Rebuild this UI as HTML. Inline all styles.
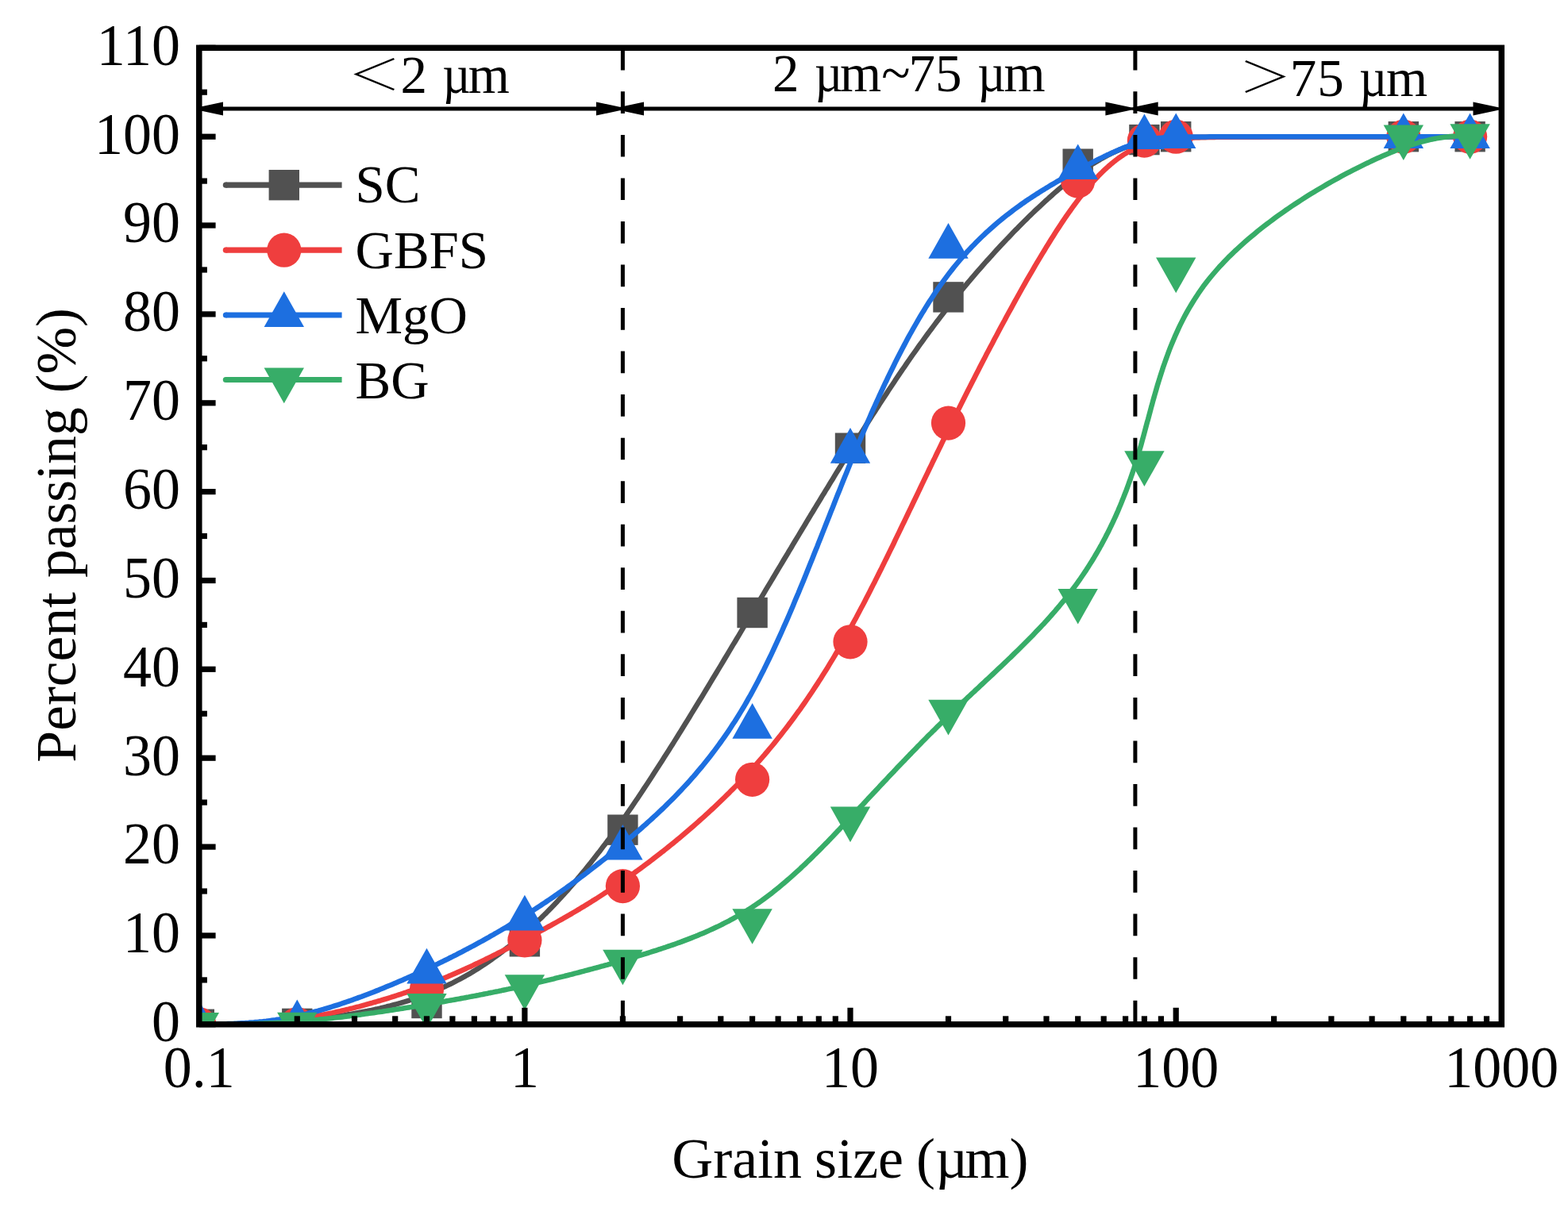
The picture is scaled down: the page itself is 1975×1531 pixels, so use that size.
<!DOCTYPE html>
<html><head><meta charset="utf-8"><title>Grain size distribution</title>
<style>html,body{margin:0;padding:0;background:#fff;} svg{display:block;}
text{font-family:"Liberation Serif","Noto Serif CJK SC",serif;fill:#000;}</style></head>
<body>
<svg width="1975" height="1531" viewBox="0 0 1975 1531">
<rect width="1975" height="1531" fill="#fff"/>
<defs><clipPath id="pc"><rect x="250.8" y="60.3" width="1640.5" height="1230.5"/></clipPath></defs>
<g clip-path="url(#pc)">
<path d="M250.8,1290.8 L252.9,1290.8 L255.0,1290.8 L257.2,1290.8 L259.3,1290.7 L261.4,1290.7 L263.5,1290.7 L265.6,1290.7 L267.8,1290.7 L269.9,1290.6 L272.0,1290.6 L274.2,1290.6 L276.3,1290.6 L278.4,1290.6 L280.6,1290.5 L282.7,1290.5 L284.8,1290.5 L287.0,1290.4 L289.1,1290.4 L291.3,1290.4 L293.5,1290.3 L295.6,1290.3 L297.8,1290.2 L300.0,1290.2 L302.1,1290.1 L304.3,1290.1 L306.5,1290.0 L308.7,1290.0 L310.9,1289.9 L313.1,1289.8 L315.3,1289.8 L317.5,1289.7 L319.7,1289.6 L321.9,1289.5 L324.2,1289.4 L326.4,1289.4 L328.7,1289.3 L330.9,1289.2 L333.2,1289.1 L335.4,1288.9 L337.7,1288.8 L340.0,1288.7 L342.3,1288.6 L344.6,1288.5 L346.9,1288.3 L349.2,1288.2 L351.6,1288.0 L353.9,1287.9 L356.2,1287.7 L358.6,1287.6 L361.0,1287.4 L363.3,1287.2 L365.7,1287.0 L368.1,1286.8 L370.5,1286.6 L372.9,1286.4 L375.4,1286.2 L377.8,1286.0 L380.3,1285.8 L382.7,1285.6 L385.2,1285.3 L387.7,1285.1 L390.2,1284.8 L392.7,1284.5 L395.2,1284.3 L397.7,1284.0 L400.3,1283.7 L402.8,1283.4 L405.4,1283.1 L407.9,1282.8 L410.5,1282.5 L413.1,1282.1 L415.7,1281.8 L418.2,1281.5 L420.8,1281.1 L423.4,1280.7 L426.0,1280.3 L428.6,1280.0 L431.2,1279.6 L433.9,1279.2 L436.5,1278.7 L439.1,1278.3 L441.7,1277.9 L444.4,1277.4 L447.0,1277.0 L449.6,1276.5 L452.2,1276.0 L454.9,1275.5 L457.5,1275.0 L460.1,1274.5 L462.8,1274.0 L465.4,1273.4 L468.0,1272.9 L470.7,1272.3 L473.3,1271.7 L475.9,1271.2 L478.5,1270.6 L481.1,1269.9 L483.7,1269.3 L486.3,1268.7 L488.9,1268.0 L491.5,1267.4 L494.1,1266.7 L496.7,1266.0 L499.3,1265.3 L501.9,1264.6 L504.4,1263.9 L507.0,1263.1 L509.5,1262.4 L512.1,1261.6 L514.6,1260.8 L517.1,1260.0 L519.7,1259.2 L522.2,1258.4 L524.7,1257.5 L527.1,1256.7 L529.6,1255.8 L532.1,1254.9 L534.5,1254.0 L537.0,1253.1 L539.4,1252.1 L541.8,1251.2 L544.2,1250.2 L546.6,1249.2 L549.0,1248.2 L551.4,1247.2 L553.7,1246.2 L556.1,1245.2 L558.4,1244.1 L560.7,1243.0 L563.1,1241.9 L565.4,1240.8 L567.7,1239.7 L570.0,1238.6 L572.3,1237.4 L574.6,1236.2 L576.8,1235.0 L579.1,1233.8 L581.4,1232.6 L583.6,1231.4 L585.9,1230.1 L588.1,1228.8 L590.3,1227.6 L592.6,1226.3 L594.8,1224.9 L597.0,1223.6 L599.2,1222.2 L601.4,1220.9 L603.6,1219.5 L605.8,1218.1 L608.0,1216.6 L610.1,1215.2 L612.3,1213.8 L614.5,1212.3 L616.6,1210.8 L618.8,1209.3 L621.0,1207.7 L623.1,1206.2 L625.3,1204.6 L627.4,1203.1 L629.6,1201.5 L631.7,1199.9 L633.8,1198.2 L636.0,1196.6 L638.1,1194.9 L640.2,1193.2 L642.4,1191.5 L644.5,1189.8 L646.6,1188.0 L648.7,1186.3 L650.9,1184.5 L653.0,1182.7 L655.1,1180.9 L657.2,1179.1 L659.3,1177.2 L661.5,1175.4 L663.6,1173.5 L665.7,1171.6 L667.8,1169.6 L669.9,1167.7 L672.1,1165.7 L674.2,1163.7 L676.3,1161.7 L678.4,1159.7 L680.6,1157.7 L682.7,1155.6 L684.8,1153.5 L687.0,1151.4 L689.1,1149.2 L691.2,1147.1 L693.4,1144.9 L695.5,1142.7 L697.7,1140.4 L699.8,1138.2 L702.0,1135.9 L704.1,1133.6 L706.3,1131.3 L708.5,1128.9 L710.6,1126.5 L712.8,1124.1 L715.0,1121.7 L717.2,1119.2 L719.4,1116.7 L721.6,1114.2 L723.8,1111.6 L726.0,1109.0 L728.2,1106.4 L730.4,1103.8 L732.6,1101.1 L734.9,1098.4 L737.1,1095.7 L739.4,1092.9 L741.6,1090.1 L743.9,1087.3 L746.1,1084.4 L748.4,1081.5 L750.7,1078.6 L753.0,1075.6 L755.3,1072.7 L757.6,1069.6 L759.9,1066.6 L762.3,1063.5 L764.6,1060.3 L767.0,1057.2 L769.3,1054.0 L771.7,1050.7 L774.1,1047.5 L776.4,1044.2 L778.8,1040.8 L781.3,1037.4 L783.7,1034.0 L786.1,1030.6 L788.6,1027.1 L791.0,1023.5 L793.5,1019.9 L796.0,1016.3 L798.4,1012.7 L800.9,1009.0 L803.5,1005.3 L806.0,1001.5 L808.5,997.7 L811.0,993.9 L813.6,990.0 L816.1,986.2 L818.7,982.2 L821.3,978.3 L823.8,974.3 L826.4,970.3 L829.0,966.3 L831.6,962.3 L834.2,958.2 L836.8,954.1 L839.4,950.0 L842.0,945.9 L844.6,941.7 L847.3,937.6 L849.9,933.4 L852.5,929.2 L855.1,925.0 L857.8,920.7 L860.4,916.5 L863.0,912.3 L865.7,908.0 L868.3,903.7 L870.9,899.4 L873.6,895.1 L876.2,890.8 L878.8,886.5 L881.4,882.2 L884.1,877.9 L886.7,873.6 L889.3,869.3 L891.9,865.0 L894.5,860.6 L897.1,856.3 L899.7,852.0 L902.3,847.7 L904.9,843.4 L907.5,839.1 L910.1,834.8 L912.6,830.5 L915.2,826.2 L917.8,821.9 L920.3,817.7 L922.8,813.4 L925.4,809.2 L927.9,805.0 L930.4,800.8 L932.9,796.6 L935.4,792.4 L937.9,788.2 L940.4,784.1 L942.8,780.0 L945.3,775.9 L947.7,771.8 L950.1,767.7 L952.5,763.7 L954.9,759.6 L957.3,755.6 L959.7,751.6 L962.1,747.6 L964.4,743.7 L966.8,739.7 L969.1,735.8 L971.5,731.9 L973.8,728.0 L976.1,724.1 L978.4,720.3 L980.7,716.4 L983.0,712.6 L985.3,708.8 L987.5,705.0 L989.8,701.2 L992.1,697.5 L994.3,693.7 L996.6,690.0 L998.8,686.2 L1001.0,682.5 L1003.2,678.8 L1005.5,675.1 L1007.7,671.4 L1009.9,667.8 L1012.1,664.1 L1014.3,660.5 L1016.4,656.9 L1018.6,653.3 L1020.8,649.6 L1023.0,646.1 L1025.1,642.5 L1027.3,638.9 L1029.5,635.3 L1031.6,631.8 L1033.8,628.2 L1035.9,624.7 L1038.1,621.2 L1040.2,617.7 L1042.4,614.2 L1044.5,610.7 L1046.6,607.2 L1048.8,603.7 L1050.9,600.2 L1053.0,596.7 L1055.1,593.3 L1057.3,589.8 L1059.4,586.4 L1061.5,582.9 L1063.6,579.5 L1065.8,576.1 L1067.9,572.7 L1070.0,569.2 L1072.1,565.8 L1074.2,562.4 L1076.3,559.0 L1078.5,555.6 L1080.6,552.2 L1082.7,548.8 L1084.8,545.5 L1087.0,542.1 L1089.1,538.7 L1091.2,535.3 L1093.3,532.0 L1095.5,528.6 L1097.6,525.3 L1099.7,521.9 L1101.9,518.6 L1104.0,515.3 L1106.2,511.9 L1108.3,508.6 L1110.5,505.3 L1112.6,502.0 L1114.8,498.7 L1117.0,495.4 L1119.1,492.1 L1121.3,488.8 L1123.5,485.5 L1125.7,482.2 L1127.8,478.9 L1130.0,475.7 L1132.2,472.4 L1134.4,469.2 L1136.6,465.9 L1138.9,462.7 L1141.1,459.4 L1143.3,456.2 L1145.5,453.0 L1147.8,449.7 L1150.0,446.5 L1152.3,443.3 L1154.6,440.1 L1156.8,436.9 L1159.1,433.7 L1161.4,430.6 L1163.7,427.4 L1166.0,424.2 L1168.3,421.0 L1170.6,417.9 L1173.0,414.7 L1175.3,411.6 L1177.7,408.4 L1180.0,405.3 L1182.4,402.2 L1184.8,399.1 L1187.2,396.0 L1189.6,392.8 L1192.0,389.7 L1194.4,386.7 L1196.8,383.6 L1199.3,380.5 L1201.7,377.4 L1204.2,374.3 L1206.7,371.3 L1209.2,368.2 L1211.7,365.2 L1214.2,362.2 L1216.7,359.1 L1219.2,356.1 L1221.8,353.1 L1224.3,350.1 L1226.9,347.1 L1229.4,344.2 L1232.0,341.2 L1234.5,338.3 L1237.1,335.3 L1239.7,332.4 L1242.2,329.5 L1244.8,326.7 L1247.4,323.8 L1250.0,321.0 L1252.5,318.1 L1255.1,315.3 L1257.7,312.5 L1260.2,309.8 L1262.8,307.0 L1265.4,304.3 L1267.9,301.6 L1270.5,298.9 L1273.1,296.2 L1275.6,293.6 L1278.1,290.9 L1280.7,288.4 L1283.2,285.8 L1285.7,283.2 L1288.2,280.7 L1290.7,278.2 L1293.2,275.8 L1295.7,273.3 L1298.2,270.9 L1300.7,268.5 L1303.1,266.2 L1305.5,263.9 L1308.0,261.6 L1310.4,259.3 L1312.8,257.1 L1315.2,254.9 L1317.5,252.7 L1319.9,250.6 L1322.2,248.5 L1324.5,246.5 L1326.8,244.4 L1329.1,242.4 L1331.3,240.5 L1333.6,238.6 L1335.8,236.7 L1338.0,234.9 L1340.2,233.1 L1342.3,231.3 L1344.5,229.6 L1346.6,227.9 L1348.7,226.2 L1350.7,224.6 L1352.8,223.1 L1354.8,221.5 L1356.8,220.1 L1358.7,218.6 L1360.7,217.2 L1362.6,215.8 L1364.5,214.5 L1366.4,213.2 L1368.3,211.9 L1370.1,210.6 L1371.9,209.4 L1373.7,208.3 L1375.5,207.1 L1377.3,206.0 L1379.0,204.9 L1380.7,203.9 L1382.4,202.9 L1384.1,201.9 L1385.7,200.9 L1387.4,200.0 L1389.0,199.1 L1390.6,198.2 L1392.2,197.3 L1393.7,196.5 L1395.3,195.7 L1396.8,194.9 L1398.3,194.2 L1399.8,193.4 L1401.3,192.7 L1402.7,192.0 L1404.2,191.4 L1405.6,190.7 L1407.0,190.1 L1408.4,189.5 L1409.7,188.9 L1411.1,188.4 L1412.4,187.8 L1413.7,187.3 L1415.0,186.8 L1416.3,186.3 L1417.6,185.8 L1418.9,185.4 L1420.1,184.9 L1421.3,184.5 L1422.5,184.1 L1423.7,183.7 L1424.9,183.3 L1426.1,182.9 L1427.2,182.6 L1428.4,182.2 L1429.5,181.9 L1430.6,181.5 L1431.7,181.2 L1432.8,180.9 L1433.8,180.6 L1434.9,180.3 L1435.9,180.0 L1437.0,179.7 L1438.0,179.5 L1439.0,179.2 L1440.0,179.0 L1441.0,178.7 L1442.0,178.5 L1443.0,178.2 L1444.0,178.0 L1445.0,177.8 L1446.1,177.6 L1447.1,177.4 L1448.1,177.1 L1449.1,177.0 L1450.1,176.8 L1451.2,176.6 L1452.2,176.4 L1453.3,176.2 L1454.4,176.1 L1455.5,175.9 L1456.6,175.7 L1457.7,175.6 L1458.9,175.5 L1460.1,175.3 L1461.3,175.2 L1462.5,175.0 L1463.8,174.9 L1465.0,174.8 L1466.4,174.7 L1467.7,174.6 L1469.1,174.5 L1470.5,174.4 L1471.9,174.3 L1473.4,174.2 L1474.9,174.1 L1476.5,174.0 L1478.1,173.9 L1479.7,173.8 L1481.4,173.8 L1483.1,173.7 L1484.9,173.6 L1486.7,173.5 L1488.6,173.5 L1490.5,173.4 L1492.5,173.4 L1494.5,173.3 L1496.6,173.3 L1498.8,173.2 L1501.0,173.2 L1503.3,173.1 L1505.6,173.1 L1508.0,173.0 L1510.4,173.0 L1513.0,172.9 L1515.5,172.9 L1518.2,172.9 L1520.9,172.8 L1523.7,172.8 L1526.6,172.8 L1529.6,172.7 L1532.6,172.7 L1535.6,172.7 L1538.8,172.6 L1542.0,172.6 L1545.2,172.6 L1548.5,172.6 L1551.9,172.5 L1555.3,172.5 L1558.8,172.5 L1562.3,172.5 L1565.9,172.5 L1569.4,172.4 L1573.1,172.4 L1576.8,172.4 L1580.5,172.4 L1584.2,172.4 L1588.0,172.4 L1591.8,172.3 L1595.6,172.3 L1599.5,172.3 L1603.3,172.3 L1607.2,172.3 L1611.1,172.3 L1615.1,172.3 L1619.0,172.3 L1623.0,172.3 L1626.9,172.2 L1630.9,172.2 L1634.8,172.2 L1638.8,172.2 L1642.8,172.2 L1646.7,172.2 L1650.7,172.2 L1654.6,172.2 L1658.6,172.2 L1662.5,172.2 L1666.4,172.2 L1670.3,172.2 L1674.2,172.2 L1678.0,172.2 L1681.8,172.2 L1685.6,172.2 L1689.4,172.2 L1693.1,172.2 L1696.9,172.2 L1700.5,172.2 L1704.2,172.2 L1707.8,172.2 L1711.3,172.2 L1714.8,172.2 L1718.3,172.2 L1721.7,172.2 L1725.1,172.2 L1728.4,172.2 L1731.6,172.2 L1734.8,172.2 L1737.9,172.2 L1741.0,172.2 L1744.0,172.2 L1747.0,172.2 L1749.9,172.2 L1752.8,172.2 L1755.6,172.2 L1758.3,172.2 L1761.0,172.2 L1763.6,172.2 L1766.2,172.2 L1768.8,172.2 L1771.3,172.2 L1773.7,172.2 L1776.1,172.2 L1778.5,172.2 L1780.8,172.2 L1783.1,172.2 L1785.4,172.2 L1787.6,172.2 L1789.7,172.2 L1791.8,172.2 L1793.9,172.2 L1796.0,172.2 L1798.0,172.2 L1800.0,172.2 L1801.9,172.2 L1803.8,172.2 L1805.7,172.2 L1807.6,172.2 L1809.4,172.2 L1811.2,172.2 L1813.0,172.2 L1814.7,172.2 L1816.4,172.2 L1818.1,172.2 L1819.8,172.2 L1821.4,172.2 L1823.1,172.2 L1824.7,172.2 L1826.3,172.2 L1827.9,172.2 L1829.4,172.2 L1831.0,172.2 L1832.5,172.2 L1834.0,172.2 L1835.5,172.2 L1837.0,172.2 L1838.5,172.2 L1840.0,172.2 L1841.4,172.2 L1842.9,172.2 L1844.3,172.2 L1845.8,172.2 L1847.2,172.2 L1848.7,172.2 L1850.1,172.2 L1851.6,172.2" fill="none" stroke="#515151" stroke-width="6.5" stroke-linejoin="round" stroke-linecap="round"/>
<rect x="231.6" y="1271.6" width="38.4" height="38.4" fill="#515151"/>
<rect x="355.1" y="1270.7" width="38.4" height="38.4" fill="#515151"/>
<rect x="518.3" y="1244.8" width="38.4" height="38.4" fill="#515151"/>
<rect x="641.7" y="1167.1" width="38.4" height="38.4" fill="#515151"/>
<rect x="765.2" y="1026.5" width="38.4" height="38.4" fill="#515151"/>
<rect x="928.4" y="752.8" width="38.4" height="38.4" fill="#515151"/>
<rect x="1051.8" y="545.5" width="38.4" height="38.4" fill="#515151"/>
<rect x="1175.3" y="355.2" width="38.4" height="38.4" fill="#515151"/>
<rect x="1338.5" y="187.5" width="38.4" height="38.4" fill="#515151"/>
<rect x="1422.2" y="156.9" width="38.4" height="38.4" fill="#515151"/>
<rect x="1462.0" y="153.0" width="38.4" height="38.4" fill="#515151"/>
<rect x="1748.6" y="153.0" width="38.4" height="38.4" fill="#515151"/>
<rect x="1832.4" y="153.0" width="38.4" height="38.4" fill="#515151"/>
<path d="M250.8,1290.8 L252.9,1290.8 L255.0,1290.8 L257.2,1290.8 L259.3,1290.8 L261.4,1290.8 L263.5,1290.8 L265.6,1290.8 L267.8,1290.8 L269.9,1290.7 L272.0,1290.7 L274.2,1290.7 L276.3,1290.7 L278.4,1290.7 L280.6,1290.6 L282.7,1290.6 L284.8,1290.6 L287.0,1290.6 L289.1,1290.5 L291.3,1290.5 L293.5,1290.4 L295.6,1290.4 L297.8,1290.3 L300.0,1290.3 L302.1,1290.2 L304.3,1290.1 L306.5,1290.1 L308.7,1290.0 L310.9,1289.9 L313.1,1289.8 L315.3,1289.7 L317.5,1289.6 L319.7,1289.5 L321.9,1289.3 L324.2,1289.2 L326.4,1289.1 L328.7,1288.9 L330.9,1288.8 L333.2,1288.6 L335.4,1288.5 L337.7,1288.3 L340.0,1288.1 L342.3,1287.9 L344.6,1287.7 L346.9,1287.5 L349.2,1287.3 L351.6,1287.0 L353.9,1286.8 L356.2,1286.5 L358.6,1286.3 L361.0,1286.0 L363.3,1285.7 L365.7,1285.4 L368.1,1285.1 L370.5,1284.8 L372.9,1284.5 L375.4,1284.1 L377.8,1283.8 L380.3,1283.4 L382.7,1283.0 L385.2,1282.6 L387.7,1282.2 L390.2,1281.8 L392.7,1281.3 L395.2,1280.9 L397.7,1280.4 L400.3,1280.0 L402.8,1279.5 L405.4,1279.0 L407.9,1278.5 L410.5,1278.0 L413.1,1277.4 L415.7,1276.9 L418.2,1276.4 L420.8,1275.8 L423.4,1275.2 L426.0,1274.6 L428.6,1274.1 L431.2,1273.4 L433.9,1272.8 L436.5,1272.2 L439.1,1271.6 L441.7,1270.9 L444.4,1270.3 L447.0,1269.6 L449.6,1268.9 L452.2,1268.3 L454.9,1267.6 L457.5,1266.9 L460.1,1266.2 L462.8,1265.4 L465.4,1264.7 L468.0,1264.0 L470.7,1263.2 L473.3,1262.5 L475.9,1261.7 L478.5,1261.0 L481.1,1260.2 L483.7,1259.4 L486.3,1258.6 L488.9,1257.8 L491.5,1257.0 L494.1,1256.2 L496.7,1255.4 L499.3,1254.5 L501.9,1253.7 L504.4,1252.9 L507.0,1252.0 L509.5,1251.1 L512.1,1250.3 L514.6,1249.4 L517.1,1248.5 L519.7,1247.7 L522.2,1246.8 L524.7,1245.9 L527.1,1245.0 L529.6,1244.1 L532.1,1243.2 L534.5,1242.3 L537.0,1241.3 L539.4,1240.4 L541.8,1239.5 L544.2,1238.6 L546.6,1237.6 L549.0,1236.7 L551.4,1235.7 L553.7,1234.8 L556.1,1233.8 L558.4,1232.9 L560.7,1231.9 L563.1,1230.9 L565.4,1229.9 L567.7,1229.0 L570.0,1228.0 L572.3,1227.0 L574.6,1226.0 L576.8,1225.0 L579.1,1224.0 L581.4,1223.0 L583.6,1222.0 L585.9,1221.0 L588.1,1219.9 L590.3,1218.9 L592.6,1217.9 L594.8,1216.9 L597.0,1215.8 L599.2,1214.8 L601.4,1213.8 L603.6,1212.7 L605.8,1211.7 L608.0,1210.6 L610.1,1209.6 L612.3,1208.5 L614.5,1207.4 L616.6,1206.4 L618.8,1205.3 L621.0,1204.2 L623.1,1203.2 L625.3,1202.1 L627.4,1201.0 L629.6,1199.9 L631.7,1198.9 L633.8,1197.8 L636.0,1196.7 L638.1,1195.6 L640.2,1194.5 L642.4,1193.4 L644.5,1192.3 L646.6,1191.2 L648.7,1190.1 L650.9,1189.0 L653.0,1187.9 L655.1,1186.8 L657.2,1185.7 L659.3,1184.5 L661.5,1183.4 L663.6,1182.3 L665.7,1181.2 L667.8,1180.1 L669.9,1178.9 L672.1,1177.8 L674.2,1176.7 L676.3,1175.6 L678.4,1174.4 L680.6,1173.3 L682.7,1172.1 L684.8,1171.0 L687.0,1169.8 L689.1,1168.6 L691.2,1167.5 L693.4,1166.3 L695.5,1165.1 L697.7,1163.9 L699.8,1162.7 L702.0,1161.5 L704.1,1160.3 L706.3,1159.1 L708.5,1157.9 L710.6,1156.6 L712.8,1155.4 L715.0,1154.1 L717.2,1152.9 L719.4,1151.6 L721.6,1150.3 L723.8,1149.0 L726.0,1147.7 L728.2,1146.4 L730.4,1145.1 L732.6,1143.7 L734.9,1142.4 L737.1,1141.0 L739.4,1139.6 L741.6,1138.3 L743.9,1136.9 L746.1,1135.4 L748.4,1134.0 L750.7,1132.6 L753.0,1131.1 L755.3,1129.6 L757.6,1128.1 L759.9,1126.6 L762.3,1125.1 L764.6,1123.6 L767.0,1122.0 L769.3,1120.5 L771.7,1118.9 L774.1,1117.3 L776.4,1115.7 L778.8,1114.0 L781.3,1112.4 L783.7,1110.7 L786.1,1109.0 L788.6,1107.3 L791.0,1105.6 L793.5,1103.8 L796.0,1102.1 L798.4,1100.3 L800.9,1098.5 L803.5,1096.7 L806.0,1094.8 L808.5,1093.0 L811.0,1091.1 L813.6,1089.2 L816.1,1087.3 L818.7,1085.3 L821.3,1083.4 L823.8,1081.4 L826.4,1079.4 L829.0,1077.4 L831.6,1075.4 L834.2,1073.3 L836.8,1071.3 L839.4,1069.2 L842.0,1067.1 L844.6,1065.0 L847.3,1062.9 L849.9,1060.7 L852.5,1058.6 L855.1,1056.4 L857.8,1054.2 L860.4,1052.0 L863.0,1049.8 L865.7,1047.5 L868.3,1045.3 L870.9,1043.0 L873.6,1040.7 L876.2,1038.4 L878.8,1036.1 L881.4,1033.8 L884.1,1031.4 L886.7,1029.1 L889.3,1026.7 L891.9,1024.3 L894.5,1021.9 L897.1,1019.5 L899.7,1017.1 L902.3,1014.6 L904.9,1012.2 L907.5,1009.7 L910.1,1007.2 L912.6,1004.7 L915.2,1002.2 L917.8,999.7 L920.3,997.1 L922.8,994.6 L925.4,992.0 L927.9,989.5 L930.4,986.9 L932.9,984.3 L935.4,981.7 L937.9,979.0 L940.4,976.4 L942.8,973.8 L945.3,971.1 L947.7,968.4 L950.1,965.8 L952.5,963.1 L954.9,960.4 L957.3,957.6 L959.7,954.9 L962.1,952.2 L964.4,949.4 L966.8,946.6 L969.1,943.8 L971.5,941.0 L973.8,938.2 L976.1,935.4 L978.4,932.5 L980.7,929.6 L983.0,926.7 L985.3,923.8 L987.5,920.9 L989.8,918.0 L992.1,915.0 L994.3,912.0 L996.6,909.0 L998.8,906.0 L1001.0,903.0 L1003.2,899.9 L1005.5,896.8 L1007.7,893.8 L1009.9,890.6 L1012.1,887.5 L1014.3,884.3 L1016.4,881.2 L1018.6,878.0 L1020.8,874.7 L1023.0,871.5 L1025.1,868.2 L1027.3,864.9 L1029.5,861.6 L1031.6,858.3 L1033.8,854.9 L1035.9,851.5 L1038.1,848.1 L1040.2,844.7 L1042.4,841.2 L1044.5,837.7 L1046.6,834.2 L1048.8,830.6 L1050.9,827.1 L1053.0,823.5 L1055.1,819.8 L1057.3,816.2 L1059.4,812.5 L1061.5,808.8 L1063.6,805.1 L1065.8,801.3 L1067.9,797.5 L1070.0,793.7 L1072.1,789.8 L1074.2,785.9 L1076.3,782.0 L1078.5,778.1 L1080.6,774.1 L1082.7,770.1 L1084.8,766.1 L1087.0,762.0 L1089.1,757.9 L1091.2,753.8 L1093.3,749.7 L1095.5,745.5 L1097.6,741.3 L1099.7,737.1 L1101.9,732.9 L1104.0,728.6 L1106.2,724.3 L1108.3,720.0 L1110.5,715.7 L1112.6,711.3 L1114.8,706.9 L1117.0,702.5 L1119.1,698.1 L1121.3,693.6 L1123.5,689.2 L1125.7,684.7 L1127.8,680.2 L1130.0,675.6 L1132.2,671.1 L1134.4,666.5 L1136.6,661.9 L1138.9,657.3 L1141.1,652.7 L1143.3,648.0 L1145.5,643.4 L1147.8,638.7 L1150.0,634.0 L1152.3,629.3 L1154.6,624.5 L1156.8,619.8 L1159.1,615.0 L1161.4,610.2 L1163.7,605.4 L1166.0,600.6 L1168.3,595.8 L1170.6,591.0 L1173.0,586.1 L1175.3,581.2 L1177.7,576.4 L1180.0,571.5 L1182.4,566.6 L1184.8,561.7 L1187.2,556.7 L1189.6,551.8 L1192.0,546.9 L1194.4,541.9 L1196.8,537.0 L1199.3,532.0 L1201.7,527.0 L1204.2,522.0 L1206.7,517.0 L1209.2,512.0 L1211.7,507.0 L1214.2,502.0 L1216.7,497.0 L1219.2,492.0 L1221.8,487.0 L1224.3,482.0 L1226.9,477.0 L1229.4,472.0 L1232.0,467.0 L1234.5,462.0 L1237.1,457.0 L1239.7,452.1 L1242.2,447.1 L1244.8,442.2 L1247.4,437.3 L1250.0,432.4 L1252.5,427.5 L1255.1,422.7 L1257.7,417.8 L1260.2,413.0 L1262.8,408.2 L1265.4,403.5 L1267.9,398.7 L1270.5,394.0 L1273.1,389.4 L1275.6,384.7 L1278.1,380.1 L1280.7,375.5 L1283.2,371.0 L1285.7,366.5 L1288.2,362.0 L1290.7,357.6 L1293.2,353.2 L1295.7,348.9 L1298.2,344.6 L1300.7,340.4 L1303.1,336.2 L1305.5,332.0 L1308.0,327.9 L1310.4,323.9 L1312.8,319.9 L1315.2,316.0 L1317.5,312.1 L1319.9,308.3 L1322.2,304.5 L1324.5,300.8 L1326.8,297.2 L1329.1,293.6 L1331.3,290.1 L1333.6,286.6 L1335.8,283.2 L1338.0,279.9 L1340.2,276.7 L1342.3,273.5 L1344.5,270.4 L1346.6,267.4 L1348.7,264.5 L1350.7,261.6 L1352.8,258.8 L1354.8,256.1 L1356.8,253.4 L1358.7,250.8 L1360.7,248.3 L1362.6,245.8 L1364.5,243.4 L1366.4,241.1 L1368.3,238.8 L1370.1,236.6 L1371.9,234.5 L1373.7,232.4 L1375.5,230.4 L1377.3,228.4 L1379.0,226.5 L1380.7,224.7 L1382.4,222.9 L1384.1,221.1 L1385.7,219.4 L1387.4,217.8 L1389.0,216.2 L1390.6,214.7 L1392.2,213.2 L1393.7,211.8 L1395.3,210.4 L1396.8,209.0 L1398.3,207.7 L1399.8,206.4 L1401.3,205.2 L1402.7,204.0 L1404.2,202.9 L1405.6,201.8 L1407.0,200.7 L1408.4,199.7 L1409.7,198.7 L1411.1,197.8 L1412.4,196.9 L1413.7,196.0 L1415.0,195.1 L1416.3,194.3 L1417.6,193.5 L1418.9,192.7 L1420.1,192.0 L1421.3,191.3 L1422.5,190.6 L1423.7,189.9 L1424.9,189.3 L1426.1,188.7 L1427.2,188.1 L1428.4,187.5 L1429.5,186.9 L1430.6,186.4 L1431.7,185.9 L1432.8,185.4 L1433.8,184.9 L1434.9,184.4 L1435.9,183.9 L1437.0,183.5 L1438.0,183.1 L1439.0,182.6 L1440.0,182.2 L1441.0,181.8 L1442.0,181.4 L1443.0,181.1 L1444.0,180.7 L1445.0,180.3 L1446.1,180.0 L1447.1,179.7 L1448.1,179.4 L1449.1,179.1 L1450.1,178.8 L1451.2,178.5 L1452.2,178.2 L1453.3,177.9 L1454.4,177.7 L1455.5,177.4 L1456.6,177.2 L1457.7,177.0 L1458.9,176.7 L1460.1,176.5 L1461.3,176.3 L1462.5,176.1 L1463.8,175.9 L1465.0,175.8 L1466.4,175.6 L1467.7,175.4 L1469.1,175.3 L1470.5,175.1 L1471.9,175.0 L1473.4,174.8 L1474.9,174.7 L1476.5,174.6 L1478.1,174.5 L1479.7,174.3 L1481.4,174.2 L1483.1,174.1 L1484.9,174.0 L1486.7,173.9 L1488.6,173.9 L1490.5,173.8 L1492.5,173.7 L1494.5,173.6 L1496.6,173.5 L1498.8,173.5 L1501.0,173.4 L1503.3,173.4 L1505.6,173.3 L1508.0,173.2 L1510.4,173.2 L1513.0,173.1 L1515.5,173.1 L1518.2,173.0 L1520.9,173.0 L1523.7,173.0 L1526.6,172.9 L1529.6,172.9 L1532.6,172.8 L1535.6,172.8 L1538.8,172.8 L1542.0,172.7 L1545.2,172.7 L1548.5,172.7 L1551.9,172.6 L1555.3,172.6 L1558.8,172.6 L1562.3,172.6 L1565.9,172.5 L1569.4,172.5 L1573.1,172.5 L1576.8,172.5 L1580.5,172.4 L1584.2,172.4 L1588.0,172.4 L1591.8,172.4 L1595.6,172.4 L1599.5,172.4 L1603.3,172.3 L1607.2,172.3 L1611.1,172.3 L1615.1,172.3 L1619.0,172.3 L1623.0,172.3 L1626.9,172.3 L1630.9,172.3 L1634.8,172.2 L1638.8,172.2 L1642.8,172.2 L1646.7,172.2 L1650.7,172.2 L1654.6,172.2 L1658.6,172.2 L1662.5,172.2 L1666.4,172.2 L1670.3,172.2 L1674.2,172.2 L1678.0,172.2 L1681.8,172.2 L1685.6,172.2 L1689.4,172.2 L1693.1,172.2 L1696.9,172.2 L1700.5,172.2 L1704.2,172.2 L1707.8,172.2 L1711.3,172.2 L1714.8,172.2 L1718.3,172.2 L1721.7,172.2 L1725.1,172.2 L1728.4,172.2 L1731.6,172.2 L1734.8,172.2 L1737.9,172.2 L1741.0,172.2 L1744.0,172.2 L1747.0,172.2 L1749.9,172.2 L1752.8,172.2 L1755.6,172.2 L1758.3,172.2 L1761.0,172.2 L1763.6,172.2 L1766.2,172.2 L1768.8,172.2 L1771.3,172.2 L1773.7,172.2 L1776.1,172.2 L1778.5,172.2 L1780.8,172.2 L1783.1,172.2 L1785.4,172.2 L1787.6,172.2 L1789.7,172.2 L1791.8,172.2 L1793.9,172.2 L1796.0,172.2 L1798.0,172.2 L1800.0,172.2 L1801.9,172.2 L1803.8,172.2 L1805.7,172.2 L1807.6,172.2 L1809.4,172.2 L1811.2,172.2 L1813.0,172.2 L1814.7,172.2 L1816.4,172.2 L1818.1,172.2 L1819.8,172.2 L1821.4,172.2 L1823.1,172.2 L1824.7,172.2 L1826.3,172.2 L1827.9,172.2 L1829.4,172.2 L1831.0,172.2 L1832.5,172.2 L1834.0,172.2 L1835.5,172.2 L1837.0,172.2 L1838.5,172.2 L1840.0,172.2 L1841.4,172.2 L1842.9,172.2 L1844.3,172.2 L1845.8,172.2 L1847.2,172.2 L1848.7,172.2 L1850.1,172.2 L1851.6,172.2" fill="none" stroke="#ef3e3e" stroke-width="6.5" stroke-linejoin="round" stroke-linecap="round"/>
<circle cx="250.8" cy="1290.8" r="21.6" fill="#ef3e3e"/>
<circle cx="374.3" cy="1290.6" r="21.6" fill="#ef3e3e"/>
<circle cx="537.5" cy="1246.6" r="21.6" fill="#ef3e3e"/>
<circle cx="660.9" cy="1184.8" r="21.6" fill="#ef3e3e"/>
<circle cx="784.4" cy="1116.6" r="21.6" fill="#ef3e3e"/>
<circle cx="947.6" cy="982.3" r="21.6" fill="#ef3e3e"/>
<circle cx="1071.0" cy="808.8" r="21.6" fill="#ef3e3e"/>
<circle cx="1194.5" cy="533.1" r="21.6" fill="#ef3e3e"/>
<circle cx="1357.7" cy="228.1" r="21.6" fill="#ef3e3e"/>
<circle cx="1441.4" cy="177.1" r="21.6" fill="#ef3e3e"/>
<circle cx="1481.2" cy="172.2" r="21.6" fill="#ef3e3e"/>
<circle cx="1767.8" cy="172.2" r="21.6" fill="#ef3e3e"/>
<circle cx="1851.6" cy="172.2" r="21.6" fill="#ef3e3e"/>
<path d="M250.8,1290.8 L252.9,1290.8 L255.0,1290.7 L257.2,1290.7 L259.3,1290.7 L261.4,1290.7 L263.5,1290.6 L265.6,1290.6 L267.8,1290.6 L269.9,1290.5 L272.0,1290.5 L274.2,1290.5 L276.3,1290.4 L278.4,1290.4 L280.6,1290.3 L282.7,1290.2 L284.8,1290.2 L287.0,1290.1 L289.1,1290.0 L291.3,1290.0 L293.5,1289.9 L295.6,1289.8 L297.8,1289.7 L300.0,1289.6 L302.1,1289.5 L304.3,1289.3 L306.5,1289.2 L308.7,1289.1 L310.9,1288.9 L313.1,1288.8 L315.3,1288.6 L317.5,1288.4 L319.7,1288.3 L321.9,1288.1 L324.2,1287.9 L326.4,1287.6 L328.7,1287.4 L330.9,1287.2 L333.2,1286.9 L335.4,1286.7 L337.7,1286.4 L340.0,1286.1 L342.3,1285.8 L344.6,1285.5 L346.9,1285.2 L349.2,1284.8 L351.6,1284.5 L353.9,1284.1 L356.2,1283.7 L358.6,1283.3 L361.0,1282.9 L363.3,1282.4 L365.7,1282.0 L368.1,1281.5 L370.5,1281.0 L372.9,1280.5 L375.4,1280.0 L377.8,1279.5 L380.3,1278.9 L382.7,1278.4 L385.2,1277.8 L387.7,1277.2 L390.2,1276.5 L392.7,1275.9 L395.2,1275.2 L397.7,1274.5 L400.3,1273.9 L402.8,1273.1 L405.4,1272.4 L407.9,1271.7 L410.5,1270.9 L413.1,1270.1 L415.7,1269.3 L418.2,1268.5 L420.8,1267.7 L423.4,1266.9 L426.0,1266.1 L428.6,1265.2 L431.2,1264.3 L433.9,1263.4 L436.5,1262.5 L439.1,1261.6 L441.7,1260.7 L444.4,1259.8 L447.0,1258.8 L449.6,1257.9 L452.2,1256.9 L454.9,1256.0 L457.5,1255.0 L460.1,1254.0 L462.8,1253.0 L465.4,1252.0 L468.0,1251.0 L470.7,1249.9 L473.3,1248.9 L475.9,1247.9 L478.5,1246.8 L481.1,1245.8 L483.7,1244.7 L486.3,1243.6 L488.9,1242.5 L491.5,1241.5 L494.1,1240.4 L496.7,1239.3 L499.3,1238.2 L501.9,1237.1 L504.4,1236.0 L507.0,1234.9 L509.5,1233.8 L512.1,1232.6 L514.6,1231.5 L517.1,1230.4 L519.7,1229.3 L522.2,1228.2 L524.7,1227.0 L527.1,1225.9 L529.6,1224.8 L532.1,1223.6 L534.5,1222.5 L537.0,1221.4 L539.4,1220.2 L541.8,1219.1 L544.2,1218.0 L546.6,1216.8 L549.0,1215.7 L551.4,1214.6 L553.7,1213.4 L556.1,1212.3 L558.4,1211.1 L560.7,1210.0 L563.1,1208.8 L565.4,1207.7 L567.7,1206.5 L570.0,1205.4 L572.3,1204.2 L574.6,1203.1 L576.8,1201.9 L579.1,1200.7 L581.4,1199.6 L583.6,1198.4 L585.9,1197.2 L588.1,1196.0 L590.3,1194.9 L592.6,1193.7 L594.8,1192.5 L597.0,1191.3 L599.2,1190.1 L601.4,1188.9 L603.6,1187.7 L605.8,1186.5 L608.0,1185.3 L610.1,1184.1 L612.3,1182.9 L614.5,1181.7 L616.6,1180.4 L618.8,1179.2 L621.0,1178.0 L623.1,1176.7 L625.3,1175.5 L627.4,1174.3 L629.6,1173.0 L631.7,1171.8 L633.8,1170.5 L636.0,1169.2 L638.1,1168.0 L640.2,1166.7 L642.4,1165.4 L644.5,1164.1 L646.6,1162.8 L648.7,1161.5 L650.9,1160.2 L653.0,1158.9 L655.1,1157.6 L657.2,1156.2 L659.3,1154.9 L661.5,1153.6 L663.6,1152.2 L665.7,1150.9 L667.8,1149.5 L669.9,1148.2 L672.1,1146.8 L674.2,1145.4 L676.3,1144.0 L678.4,1142.6 L680.6,1141.2 L682.7,1139.8 L684.8,1138.4 L687.0,1137.0 L689.1,1135.5 L691.2,1134.1 L693.4,1132.6 L695.5,1131.2 L697.7,1129.7 L699.8,1128.2 L702.0,1126.7 L704.1,1125.2 L706.3,1123.7 L708.5,1122.1 L710.6,1120.6 L712.8,1119.1 L715.0,1117.5 L717.2,1115.9 L719.4,1114.3 L721.6,1112.7 L723.8,1111.1 L726.0,1109.5 L728.2,1107.9 L730.4,1106.2 L732.6,1104.5 L734.9,1102.9 L737.1,1101.2 L739.4,1099.5 L741.6,1097.7 L743.9,1096.0 L746.1,1094.3 L748.4,1092.5 L750.7,1090.7 L753.0,1088.9 L755.3,1087.1 L757.6,1085.3 L759.9,1083.5 L762.3,1081.6 L764.6,1079.7 L767.0,1077.8 L769.3,1075.9 L771.7,1074.0 L774.1,1072.1 L776.4,1070.1 L778.8,1068.1 L781.3,1066.1 L783.7,1064.1 L786.1,1062.1 L788.6,1060.1 L791.0,1058.0 L793.5,1055.9 L796.0,1053.8 L798.4,1051.7 L800.9,1049.5 L803.5,1047.4 L806.0,1045.2 L808.5,1043.0 L811.0,1040.7 L813.6,1038.5 L816.1,1036.2 L818.7,1033.9 L821.3,1031.5 L823.8,1029.2 L826.4,1026.8 L829.0,1024.4 L831.6,1021.9 L834.2,1019.5 L836.8,1017.0 L839.4,1014.4 L842.0,1011.8 L844.6,1009.2 L847.3,1006.6 L849.9,1004.0 L852.5,1001.3 L855.1,998.5 L857.8,995.7 L860.4,992.9 L863.0,990.1 L865.7,987.2 L868.3,984.3 L870.9,981.3 L873.6,978.4 L876.2,975.3 L878.8,972.2 L881.4,969.1 L884.1,966.0 L886.7,962.8 L889.3,959.5 L891.9,956.2 L894.5,952.9 L897.1,949.5 L899.7,946.1 L902.3,942.6 L904.9,939.1 L907.5,935.5 L910.1,931.9 L912.6,928.3 L915.2,924.6 L917.8,920.8 L920.3,917.0 L922.8,913.1 L925.4,909.2 L927.9,905.2 L930.4,901.2 L932.9,897.1 L935.4,893.0 L937.9,888.8 L940.4,884.5 L942.8,880.2 L945.3,875.9 L947.7,871.5 L950.1,867.0 L952.5,862.5 L954.9,857.9 L957.3,853.3 L959.7,848.6 L962.1,843.9 L964.4,839.1 L966.8,834.3 L969.1,829.5 L971.5,824.6 L973.8,819.7 L976.1,814.7 L978.4,809.7 L980.7,804.7 L983.0,799.6 L985.3,794.5 L987.5,789.4 L989.8,784.3 L992.1,779.1 L994.3,773.9 L996.6,768.6 L998.8,763.4 L1001.0,758.1 L1003.2,752.8 L1005.5,747.5 L1007.7,742.1 L1009.9,736.8 L1012.1,731.4 L1014.3,726.1 L1016.4,720.7 L1018.6,715.3 L1020.8,709.8 L1023.0,704.4 L1025.1,699.0 L1027.3,693.6 L1029.5,688.2 L1031.6,682.7 L1033.8,677.3 L1035.9,671.9 L1038.1,666.4 L1040.2,661.0 L1042.4,655.6 L1044.5,650.2 L1046.6,644.8 L1048.8,639.4 L1050.9,634.0 L1053.0,628.6 L1055.1,623.3 L1057.3,617.9 L1059.4,612.6 L1061.5,607.3 L1063.6,602.0 L1065.8,596.7 L1067.9,591.5 L1070.0,586.3 L1072.1,581.1 L1074.2,575.9 L1076.3,570.8 L1078.5,565.7 L1080.6,560.6 L1082.7,555.5 L1084.8,550.5 L1087.0,545.5 L1089.1,540.5 L1091.2,535.6 L1093.3,530.7 L1095.5,525.8 L1097.6,520.9 L1099.7,516.1 L1101.9,511.3 L1104.0,506.6 L1106.2,501.8 L1108.3,497.1 L1110.5,492.5 L1112.6,487.8 L1114.8,483.2 L1117.0,478.7 L1119.1,474.1 L1121.3,469.6 L1123.5,465.2 L1125.7,460.8 L1127.8,456.4 L1130.0,452.0 L1132.2,447.7 L1134.4,443.4 L1136.6,439.2 L1138.9,434.9 L1141.1,430.8 L1143.3,426.6 L1145.5,422.5 L1147.8,418.5 L1150.0,414.5 L1152.3,410.5 L1154.6,406.5 L1156.8,402.6 L1159.1,398.8 L1161.4,394.9 L1163.7,391.2 L1166.0,387.4 L1168.3,383.7 L1170.6,380.1 L1173.0,376.5 L1175.3,372.9 L1177.7,369.3 L1180.0,365.9 L1182.4,362.4 L1184.8,359.0 L1187.2,355.7 L1189.6,352.4 L1192.0,349.1 L1194.4,345.9 L1196.8,342.7 L1199.3,339.6 L1201.7,336.5 L1204.2,333.5 L1206.7,330.5 L1209.2,327.5 L1211.7,324.6 L1214.2,321.8 L1216.7,319.0 L1219.2,316.2 L1221.8,313.5 L1224.3,310.8 L1226.9,308.2 L1229.4,305.6 L1232.0,303.0 L1234.5,300.5 L1237.1,298.0 L1239.7,295.6 L1242.2,293.2 L1244.8,290.8 L1247.4,288.5 L1250.0,286.2 L1252.5,284.0 L1255.1,281.8 L1257.7,279.6 L1260.2,277.5 L1262.8,275.4 L1265.4,273.3 L1267.9,271.3 L1270.5,269.3 L1273.1,267.3 L1275.6,265.4 L1278.1,263.5 L1280.7,261.6 L1283.2,259.8 L1285.7,258.0 L1288.2,256.2 L1290.7,254.5 L1293.2,252.7 L1295.7,251.1 L1298.2,249.4 L1300.7,247.8 L1303.1,246.2 L1305.5,244.6 L1308.0,243.1 L1310.4,241.5 L1312.8,240.0 L1315.2,238.6 L1317.5,237.1 L1319.9,235.7 L1322.2,234.3 L1324.5,232.9 L1326.8,231.6 L1329.1,230.2 L1331.3,228.9 L1333.6,227.6 L1335.8,226.4 L1338.0,225.1 L1340.2,223.9 L1342.3,222.7 L1344.5,221.5 L1346.6,220.3 L1348.7,219.2 L1350.7,218.0 L1352.8,216.9 L1354.8,215.8 L1356.8,214.7 L1358.7,213.7 L1360.7,212.6 L1362.6,211.6 L1364.5,210.6 L1366.4,209.6 L1368.3,208.6 L1370.1,207.6 L1371.9,206.7 L1373.7,205.8 L1375.5,204.8 L1377.3,203.9 L1379.0,203.1 L1380.7,202.2 L1382.4,201.3 L1384.1,200.5 L1385.7,199.7 L1387.4,198.9 L1389.0,198.1 L1390.6,197.3 L1392.2,196.6 L1393.7,195.8 L1395.3,195.1 L1396.8,194.4 L1398.3,193.7 L1399.8,193.0 L1401.3,192.3 L1402.7,191.7 L1404.2,191.0 L1405.6,190.4 L1407.0,189.8 L1408.4,189.2 L1409.7,188.6 L1411.1,188.0 L1412.4,187.5 L1413.7,186.9 L1415.0,186.4 L1416.3,185.9 L1417.6,185.4 L1418.9,184.9 L1420.1,184.4 L1421.3,183.9 L1422.5,183.4 L1423.7,183.0 L1424.9,182.6 L1426.1,182.1 L1427.2,181.7 L1428.4,181.3 L1429.5,180.9 L1430.6,180.6 L1431.7,180.2 L1432.8,179.8 L1433.8,179.5 L1434.9,179.2 L1435.9,178.8 L1437.0,178.5 L1438.0,178.2 L1439.0,177.9 L1440.0,177.7 L1441.0,177.4 L1442.0,177.1 L1443.0,176.9 L1444.0,176.6 L1445.0,176.4 L1446.1,176.2 L1447.1,176.0 L1448.1,175.8 L1449.1,175.6 L1450.1,175.4 L1451.2,175.2 L1452.2,175.0 L1453.3,174.8 L1454.4,174.7 L1455.5,174.5 L1456.6,174.4 L1457.7,174.2 L1458.9,174.1 L1460.1,174.0 L1461.3,173.9 L1462.5,173.8 L1463.8,173.7 L1465.0,173.5 L1466.4,173.5 L1467.7,173.4 L1469.1,173.3 L1470.5,173.2 L1471.9,173.1 L1473.4,173.1 L1474.9,173.0 L1476.5,172.9 L1478.1,172.9 L1479.7,172.8 L1481.4,172.8 L1483.1,172.7 L1484.9,172.7 L1486.7,172.7 L1488.6,172.6 L1490.5,172.6 L1492.5,172.6 L1494.5,172.5 L1496.6,172.5 L1498.8,172.5 L1501.0,172.5 L1503.3,172.4 L1505.6,172.4 L1508.0,172.4 L1510.4,172.4 L1513.0,172.4 L1515.5,172.4 L1518.2,172.4 L1520.9,172.4 L1523.7,172.3 L1526.6,172.3 L1529.6,172.3 L1532.6,172.3 L1535.6,172.3 L1538.8,172.3 L1542.0,172.3 L1545.2,172.3 L1548.5,172.3 L1551.9,172.3 L1555.3,172.3 L1558.8,172.3 L1562.3,172.3 L1565.9,172.2 L1569.4,172.2 L1573.1,172.2 L1576.8,172.2 L1580.5,172.2 L1584.2,172.2 L1588.0,172.2 L1591.8,172.2 L1595.6,172.2 L1599.5,172.2 L1603.3,172.2 L1607.2,172.2 L1611.1,172.2 L1615.1,172.2 L1619.0,172.2 L1623.0,172.2 L1626.9,172.2 L1630.9,172.2 L1634.8,172.2 L1638.8,172.2 L1642.8,172.2 L1646.7,172.2 L1650.7,172.2 L1654.6,172.2 L1658.6,172.2 L1662.5,172.2 L1666.4,172.2 L1670.3,172.2 L1674.2,172.2 L1678.0,172.2 L1681.8,172.2 L1685.6,172.2 L1689.4,172.2 L1693.1,172.2 L1696.9,172.2 L1700.5,172.2 L1704.2,172.2 L1707.8,172.2 L1711.3,172.2 L1714.8,172.2 L1718.3,172.2 L1721.7,172.2 L1725.1,172.2 L1728.4,172.2 L1731.6,172.2 L1734.8,172.2 L1737.9,172.2 L1741.0,172.2 L1744.0,172.2 L1747.0,172.2 L1749.9,172.2 L1752.8,172.2 L1755.6,172.2 L1758.3,172.2 L1761.0,172.2 L1763.6,172.2 L1766.2,172.2 L1768.8,172.2 L1771.3,172.2 L1773.7,172.2 L1776.1,172.2 L1778.5,172.2 L1780.8,172.2 L1783.1,172.2 L1785.4,172.2 L1787.6,172.2 L1789.7,172.2 L1791.8,172.2 L1793.9,172.2 L1796.0,172.2 L1798.0,172.2 L1800.0,172.2 L1801.9,172.2 L1803.8,172.2 L1805.7,172.2 L1807.6,172.2 L1809.4,172.2 L1811.2,172.2 L1813.0,172.2 L1814.7,172.2 L1816.4,172.2 L1818.1,172.2 L1819.8,172.2 L1821.4,172.2 L1823.1,172.2 L1824.7,172.2 L1826.3,172.2 L1827.9,172.2 L1829.4,172.2 L1831.0,172.2 L1832.5,172.2 L1834.0,172.2 L1835.5,172.2 L1837.0,172.2 L1838.5,172.2 L1840.0,172.2 L1841.4,172.2 L1842.9,172.2 L1844.3,172.2 L1845.8,172.2 L1847.2,172.2 L1848.7,172.2 L1850.1,172.2 L1851.6,172.2" fill="none" stroke="#1d6fe0" stroke-width="6.5" stroke-linejoin="round" stroke-linecap="round"/>
<path d="M250.8,1261.1 L276.0,1305.7 L225.6,1305.7Z" fill="#1d6fe0"/>
<path d="M374.3,1259.6 L399.5,1304.2 L349.1,1304.2Z" fill="#1d6fe0"/>
<path d="M537.5,1194.8 L562.7,1239.4 L512.3,1239.4Z" fill="#1d6fe0"/>
<path d="M660.9,1127.8 L686.1,1172.4 L635.7,1172.4Z" fill="#1d6fe0"/>
<path d="M784.4,1038.9 L809.6,1083.5 L759.2,1083.5Z" fill="#1d6fe0"/>
<path d="M947.6,886.1 L972.8,930.7 L922.4,930.7Z" fill="#1d6fe0"/>
<path d="M1071.0,539.1 L1096.2,583.7 L1045.8,583.7Z" fill="#1d6fe0"/>
<path d="M1194.5,281.1 L1219.7,325.7 L1169.3,325.7Z" fill="#1d6fe0"/>
<path d="M1357.7,181.5 L1382.9,226.1 L1332.5,226.1Z" fill="#1d6fe0"/>
<path d="M1441.4,143.5 L1466.6,188.1 L1416.2,188.1Z" fill="#1d6fe0"/>
<path d="M1481.2,142.4 L1506.4,187.0 L1456.0,187.0Z" fill="#1d6fe0"/>
<path d="M1767.8,142.4 L1793.0,187.0 L1742.6,187.0Z" fill="#1d6fe0"/>
<path d="M1851.6,142.4 L1876.8,187.0 L1826.4,187.0Z" fill="#1d6fe0"/>
<path d="M250.8,1290.8 L252.9,1290.8 L255.0,1290.8 L257.2,1290.8 L259.3,1290.8 L261.4,1290.8 L263.5,1290.8 L265.6,1290.8 L267.8,1290.8 L269.9,1290.8 L272.0,1290.7 L274.2,1290.7 L276.3,1290.7 L278.4,1290.7 L280.6,1290.7 L282.7,1290.7 L284.8,1290.7 L287.0,1290.6 L289.1,1290.6 L291.3,1290.6 L293.5,1290.6 L295.6,1290.5 L297.8,1290.5 L300.0,1290.5 L302.1,1290.4 L304.3,1290.4 L306.5,1290.4 L308.7,1290.3 L310.9,1290.3 L313.1,1290.2 L315.3,1290.1 L317.5,1290.1 L319.7,1290.0 L321.9,1290.0 L324.2,1289.9 L326.4,1289.8 L328.7,1289.7 L330.9,1289.7 L333.2,1289.6 L335.4,1289.5 L337.7,1289.4 L340.0,1289.3 L342.3,1289.2 L344.6,1289.1 L346.9,1288.9 L349.2,1288.8 L351.6,1288.7 L353.9,1288.6 L356.2,1288.4 L358.6,1288.3 L361.0,1288.1 L363.3,1288.0 L365.7,1287.8 L368.1,1287.6 L370.5,1287.5 L372.9,1287.3 L375.4,1287.1 L377.8,1286.9 L380.3,1286.7 L382.7,1286.5 L385.2,1286.3 L387.7,1286.1 L390.2,1285.8 L392.7,1285.6 L395.2,1285.4 L397.7,1285.1 L400.3,1284.9 L402.8,1284.6 L405.4,1284.3 L407.9,1284.1 L410.5,1283.8 L413.1,1283.5 L415.7,1283.2 L418.2,1282.9 L420.8,1282.6 L423.4,1282.3 L426.0,1282.0 L428.6,1281.7 L431.2,1281.4 L433.9,1281.1 L436.5,1280.8 L439.1,1280.4 L441.7,1280.1 L444.4,1279.8 L447.0,1279.4 L449.6,1279.1 L452.2,1278.7 L454.9,1278.4 L457.5,1278.0 L460.1,1277.6 L462.8,1277.3 L465.4,1276.9 L468.0,1276.5 L470.7,1276.2 L473.3,1275.8 L475.9,1275.4 L478.5,1275.0 L481.1,1274.7 L483.7,1274.3 L486.3,1273.9 L488.9,1273.5 L491.5,1273.1 L494.1,1272.7 L496.7,1272.3 L499.3,1271.9 L501.9,1271.5 L504.4,1271.1 L507.0,1270.7 L509.5,1270.3 L512.1,1269.9 L514.6,1269.5 L517.1,1269.1 L519.7,1268.7 L522.2,1268.3 L524.7,1267.9 L527.1,1267.5 L529.6,1267.1 L532.1,1266.7 L534.5,1266.3 L537.0,1265.8 L539.4,1265.4 L541.8,1265.0 L544.2,1264.6 L546.6,1264.2 L549.0,1263.8 L551.4,1263.4 L553.7,1263.0 L556.1,1262.6 L558.4,1262.2 L560.7,1261.8 L563.1,1261.3 L565.4,1260.9 L567.7,1260.5 L570.0,1260.1 L572.3,1259.7 L574.6,1259.3 L576.8,1258.9 L579.1,1258.5 L581.4,1258.0 L583.6,1257.6 L585.9,1257.2 L588.1,1256.8 L590.3,1256.4 L592.6,1255.9 L594.8,1255.5 L597.0,1255.1 L599.2,1254.7 L601.4,1254.3 L603.6,1253.8 L605.8,1253.4 L608.0,1253.0 L610.1,1252.5 L612.3,1252.1 L614.5,1251.7 L616.6,1251.2 L618.8,1250.8 L621.0,1250.4 L623.1,1249.9 L625.3,1249.5 L627.4,1249.1 L629.6,1248.6 L631.7,1248.2 L633.8,1247.7 L636.0,1247.3 L638.1,1246.8 L640.2,1246.4 L642.4,1245.9 L644.5,1245.5 L646.6,1245.0 L648.7,1244.5 L650.9,1244.1 L653.0,1243.6 L655.1,1243.1 L657.2,1242.7 L659.3,1242.2 L661.5,1241.7 L663.6,1241.2 L665.7,1240.8 L667.8,1240.3 L669.9,1239.8 L672.1,1239.3 L674.2,1238.8 L676.3,1238.3 L678.4,1237.8 L680.6,1237.3 L682.7,1236.8 L684.8,1236.3 L687.0,1235.8 L689.1,1235.3 L691.2,1234.8 L693.4,1234.3 L695.5,1233.8 L697.7,1233.3 L699.8,1232.7 L702.0,1232.2 L704.1,1231.7 L706.3,1231.1 L708.5,1230.6 L710.6,1230.1 L712.8,1229.5 L715.0,1229.0 L717.2,1228.4 L719.4,1227.9 L721.6,1227.3 L723.8,1226.7 L726.0,1226.2 L728.2,1225.6 L730.4,1225.0 L732.6,1224.4 L734.9,1223.8 L737.1,1223.2 L739.4,1222.6 L741.6,1222.0 L743.9,1221.4 L746.1,1220.8 L748.4,1220.2 L750.7,1219.6 L753.0,1219.0 L755.3,1218.3 L757.6,1217.7 L759.9,1217.1 L762.3,1216.4 L764.6,1215.8 L767.0,1215.1 L769.3,1214.5 L771.7,1213.8 L774.1,1213.1 L776.4,1212.4 L778.8,1211.8 L781.3,1211.1 L783.7,1210.4 L786.1,1209.7 L788.6,1209.0 L791.0,1208.3 L793.5,1207.5 L796.0,1206.8 L798.4,1206.1 L800.9,1205.4 L803.5,1204.6 L806.0,1203.9 L808.5,1203.1 L811.0,1202.3 L813.6,1201.6 L816.1,1200.8 L818.7,1200.0 L821.3,1199.2 L823.8,1198.4 L826.4,1197.6 L829.0,1196.7 L831.6,1195.9 L834.2,1195.0 L836.8,1194.2 L839.4,1193.3 L842.0,1192.4 L844.6,1191.5 L847.3,1190.6 L849.9,1189.7 L852.5,1188.8 L855.1,1187.8 L857.8,1186.9 L860.4,1185.9 L863.0,1184.9 L865.7,1183.9 L868.3,1182.9 L870.9,1181.9 L873.6,1180.8 L876.2,1179.8 L878.8,1178.7 L881.4,1177.6 L884.1,1176.5 L886.7,1175.4 L889.3,1174.3 L891.9,1173.1 L894.5,1171.9 L897.1,1170.7 L899.7,1169.5 L902.3,1168.3 L904.9,1167.1 L907.5,1165.8 L910.1,1164.5 L912.6,1163.2 L915.2,1161.9 L917.8,1160.6 L920.3,1159.2 L922.8,1157.8 L925.4,1156.4 L927.9,1155.0 L930.4,1153.6 L932.9,1152.1 L935.4,1150.6 L937.9,1149.1 L940.4,1147.6 L942.8,1146.0 L945.3,1144.5 L947.7,1142.9 L950.1,1141.3 L952.5,1139.6 L954.9,1138.0 L957.3,1136.3 L959.7,1134.6 L962.1,1132.8 L964.4,1131.1 L966.8,1129.3 L969.1,1127.6 L971.5,1125.8 L973.8,1124.0 L976.1,1122.1 L978.4,1120.3 L980.7,1118.4 L983.0,1116.5 L985.3,1114.6 L987.5,1112.7 L989.8,1110.8 L992.1,1108.8 L994.3,1106.9 L996.6,1104.9 L998.8,1102.9 L1001.0,1100.9 L1003.2,1098.9 L1005.5,1096.8 L1007.7,1094.8 L1009.9,1092.7 L1012.1,1090.7 L1014.3,1088.6 L1016.4,1086.5 L1018.6,1084.4 L1020.8,1082.3 L1023.0,1080.2 L1025.1,1078.0 L1027.3,1075.9 L1029.5,1073.7 L1031.6,1071.6 L1033.8,1069.4 L1035.9,1067.2 L1038.1,1065.0 L1040.2,1062.9 L1042.4,1060.7 L1044.5,1058.4 L1046.6,1056.2 L1048.8,1054.0 L1050.9,1051.8 L1053.0,1049.6 L1055.1,1047.3 L1057.3,1045.1 L1059.4,1042.8 L1061.5,1040.6 L1063.6,1038.4 L1065.8,1036.1 L1067.9,1033.8 L1070.0,1031.6 L1072.1,1029.3 L1074.2,1027.1 L1076.3,1024.8 L1078.5,1022.5 L1080.6,1020.3 L1082.7,1018.0 L1084.8,1015.7 L1087.0,1013.5 L1089.1,1011.2 L1091.2,1008.9 L1093.3,1006.6 L1095.5,1004.3 L1097.6,1002.1 L1099.7,999.8 L1101.9,997.5 L1104.0,995.2 L1106.2,992.9 L1108.3,990.6 L1110.5,988.3 L1112.6,986.0 L1114.8,983.7 L1117.0,981.4 L1119.1,979.1 L1121.3,976.8 L1123.5,974.5 L1125.7,972.2 L1127.8,969.9 L1130.0,967.6 L1132.2,965.3 L1134.4,963.0 L1136.6,960.7 L1138.9,958.4 L1141.1,956.1 L1143.3,953.7 L1145.5,951.4 L1147.8,949.1 L1150.0,946.8 L1152.3,944.4 L1154.6,942.1 L1156.8,939.8 L1159.1,937.5 L1161.4,935.1 L1163.7,932.8 L1166.0,930.5 L1168.3,928.1 L1170.6,925.8 L1173.0,923.5 L1175.3,921.1 L1177.7,918.8 L1180.0,916.4 L1182.4,914.1 L1184.8,911.7 L1187.2,909.4 L1189.6,907.0 L1192.0,904.7 L1194.4,902.3 L1196.8,900.0 L1199.3,897.6 L1201.7,895.3 L1204.2,892.9 L1206.7,890.5 L1209.2,888.2 L1211.7,885.8 L1214.2,883.4 L1216.7,881.1 L1219.2,878.7 L1221.8,876.3 L1224.3,873.9 L1226.9,871.6 L1229.4,869.2 L1232.0,866.8 L1234.5,864.4 L1237.1,862.0 L1239.7,859.6 L1242.2,857.2 L1244.8,854.8 L1247.4,852.4 L1250.0,850.0 L1252.5,847.6 L1255.1,845.2 L1257.7,842.7 L1260.2,840.3 L1262.8,837.9 L1265.4,835.4 L1267.9,833.0 L1270.5,830.5 L1273.1,828.1 L1275.6,825.6 L1278.1,823.1 L1280.7,820.7 L1283.2,818.2 L1285.7,815.7 L1288.2,813.2 L1290.7,810.7 L1293.2,808.2 L1295.7,805.7 L1298.2,803.2 L1300.7,800.7 L1303.1,798.1 L1305.5,795.6 L1308.0,793.0 L1310.4,790.5 L1312.8,787.9 L1315.2,785.4 L1317.5,782.8 L1319.9,780.2 L1322.2,777.6 L1324.5,775.0 L1326.8,772.4 L1329.1,769.8 L1331.3,767.1 L1333.6,764.5 L1335.8,761.8 L1338.0,759.2 L1340.2,756.5 L1342.3,753.8 L1344.5,751.2 L1346.6,748.5 L1348.7,745.7 L1350.7,743.0 L1352.8,740.3 L1354.8,737.6 L1356.8,734.8 L1358.7,732.1 L1360.7,729.3 L1362.6,726.5 L1364.5,723.7 L1366.4,720.9 L1368.3,718.1 L1370.1,715.3 L1371.9,712.4 L1373.7,709.6 L1375.5,706.7 L1377.3,703.8 L1379.0,700.9 L1380.7,698.0 L1382.4,695.1 L1384.1,692.2 L1385.7,689.2 L1387.4,686.3 L1389.0,683.3 L1390.6,680.3 L1392.2,677.3 L1393.7,674.3 L1395.3,671.2 L1396.8,668.2 L1398.3,665.1 L1399.8,662.0 L1401.3,658.9 L1402.7,655.8 L1404.2,652.7 L1405.6,649.6 L1407.0,646.4 L1408.4,643.2 L1409.7,640.0 L1411.1,636.8 L1412.4,633.6 L1413.7,630.3 L1415.0,627.1 L1416.3,623.8 L1417.6,620.5 L1418.9,617.2 L1420.1,613.9 L1421.3,610.5 L1422.5,607.1 L1423.7,603.8 L1424.9,600.3 L1426.1,596.9 L1427.2,593.5 L1428.4,590.0 L1429.5,586.5 L1430.6,583.0 L1431.7,579.5 L1432.8,575.9 L1433.8,572.4 L1434.9,568.8 L1435.9,565.2 L1437.0,561.6 L1438.0,557.9 L1439.0,554.2 L1440.0,550.6 L1441.0,546.9 L1442.0,543.2 L1443.0,539.4 L1444.0,535.7 L1445.0,531.9 L1446.1,528.2 L1447.1,524.4 L1448.1,520.6 L1449.1,516.8 L1450.1,513.0 L1451.2,509.2 L1452.2,505.3 L1453.3,501.5 L1454.4,497.7 L1455.5,493.8 L1456.6,490.0 L1457.7,486.1 L1458.9,482.3 L1460.1,478.4 L1461.3,474.5 L1462.5,470.7 L1463.8,466.8 L1465.0,462.9 L1466.4,459.0 L1467.7,455.2 L1469.1,451.3 L1470.5,447.5 L1471.9,443.6 L1473.4,439.7 L1474.9,435.9 L1476.5,432.0 L1478.1,428.2 L1479.7,424.4 L1481.4,420.6 L1483.1,416.8 L1484.9,412.9 L1486.7,409.2 L1488.6,405.4 L1490.5,401.6 L1492.5,397.8 L1494.5,394.1 L1496.6,390.4 L1498.8,386.7 L1501.0,383.0 L1503.3,379.3 L1505.6,375.6 L1508.0,372.0 L1510.4,368.3 L1513.0,364.7 L1515.5,361.1 L1518.2,357.6 L1520.9,354.0 L1523.7,350.5 L1526.6,347.0 L1529.6,343.5 L1532.6,340.0 L1535.6,336.6 L1538.8,333.2 L1542.0,329.8 L1545.2,326.5 L1548.5,323.1 L1551.9,319.8 L1555.3,316.5 L1558.8,313.3 L1562.3,310.1 L1565.9,306.9 L1569.4,303.7 L1573.1,300.6 L1576.8,297.5 L1580.5,294.4 L1584.2,291.3 L1588.0,288.3 L1591.8,285.3 L1595.6,282.4 L1599.5,279.5 L1603.3,276.6 L1607.2,273.7 L1611.1,270.9 L1615.1,268.1 L1619.0,265.3 L1623.0,262.6 L1626.9,259.9 L1630.9,257.3 L1634.8,254.7 L1638.8,252.1 L1642.8,249.6 L1646.7,247.1 L1650.7,244.6 L1654.6,242.2 L1658.6,239.8 L1662.5,237.5 L1666.4,235.2 L1670.3,232.9 L1674.2,230.7 L1678.0,228.5 L1681.8,226.4 L1685.6,224.3 L1689.4,222.2 L1693.1,220.2 L1696.9,218.2 L1700.5,216.3 L1704.2,214.4 L1707.8,212.6 L1711.3,210.8 L1714.8,209.1 L1718.3,207.4 L1721.7,205.7 L1725.1,204.1 L1728.4,202.5 L1731.6,201.0 L1734.8,199.6 L1737.9,198.2 L1741.0,196.8 L1744.0,195.5 L1747.0,194.2 L1749.9,193.0 L1752.8,191.8 L1755.6,190.7 L1758.3,189.6 L1761.0,188.5 L1763.6,187.5 L1766.2,186.6 L1768.8,185.6 L1771.3,184.8 L1773.7,183.9 L1776.1,183.1 L1778.5,182.3 L1780.8,181.6 L1783.1,180.8 L1785.4,180.2 L1787.6,179.5 L1789.7,178.9 L1791.8,178.3 L1793.9,177.8 L1796.0,177.3 L1798.0,176.8 L1800.0,176.3 L1801.9,175.9 L1803.8,175.5 L1805.7,175.1 L1807.6,174.7 L1809.4,174.4 L1811.2,174.1 L1813.0,173.8 L1814.7,173.5 L1816.4,173.2 L1818.1,173.0 L1819.8,172.8 L1821.4,172.6 L1823.1,172.4 L1824.7,172.2 L1826.3,172.1 L1827.9,172.0 L1829.4,171.8 L1831.0,171.7 L1832.5,171.6 L1834.0,171.5 L1835.5,171.5 L1837.0,171.4 L1838.5,171.3 L1840.0,171.3 L1841.4,171.2 L1842.9,171.2 L1844.3,171.2 L1845.8,171.1 L1847.2,171.1 L1848.7,171.1 L1850.1,171.1 L1851.6,171.0" fill="none" stroke="#37ad68" stroke-width="6.5" stroke-linejoin="round" stroke-linecap="round"/>
<path d="M250.8,1320.5 L276.0,1275.9 L225.6,1275.9Z" fill="#37ad68"/>
<path d="M374.3,1320.3 L399.5,1275.7 L349.1,1275.7Z" fill="#37ad68"/>
<path d="M537.5,1296.6 L562.7,1252.0 L512.3,1252.0Z" fill="#37ad68"/>
<path d="M660.9,1272.9 L686.1,1228.3 L635.7,1228.3Z" fill="#37ad68"/>
<path d="M784.4,1241.3 L809.6,1196.7 L759.2,1196.7Z" fill="#37ad68"/>
<path d="M947.6,1189.8 L972.8,1145.2 L922.4,1145.2Z" fill="#37ad68"/>
<path d="M1071.0,1061.2 L1096.2,1016.6 L1045.8,1016.6Z" fill="#37ad68"/>
<path d="M1194.5,926.4 L1219.7,881.8 L1169.3,881.8Z" fill="#37ad68"/>
<path d="M1357.7,786.5 L1382.9,741.9 L1332.5,741.9Z" fill="#37ad68"/>
<path d="M1441.4,612.9 L1466.6,568.3 L1416.2,568.3Z" fill="#37ad68"/>
<path d="M1481.2,369.2 L1506.4,324.6 L1456.0,324.6Z" fill="#37ad68"/>
<path d="M1767.8,202.0 L1793.0,157.4 L1742.6,157.4Z" fill="#37ad68"/>
<path d="M1851.6,200.8 L1876.8,156.2 L1826.4,156.2Z" fill="#37ad68"/>
</g>
<line x1="784.4" y1="60.8" x2="784.4" y2="1290.8" stroke="#000" stroke-width="5" stroke-dasharray="27.7 26.84"/>
<line x1="1429.9" y1="60.8" x2="1429.9" y2="1290.8" stroke="#000" stroke-width="5" stroke-dasharray="27.7 26.84"/>
<g clip-path="url(#pc)">
<line x1="279.0" y1="137.0" x2="753.0" y2="137.0" stroke="#000" stroke-width="4.8"/>
<path d="M241.0,137.0 L281.0,128.4 L281.0,145.6Z" fill="#000"/>
<path d="M791.0,137.0 L751.0,128.4 L751.0,145.6Z" fill="#000"/>
<line x1="809.0" y1="137.0" x2="1394.4" y2="137.0" stroke="#000" stroke-width="4.8"/>
<path d="M771.0,137.0 L811.0,128.4 L811.0,145.6Z" fill="#000"/>
<path d="M1432.4,137.0 L1392.4,128.4 L1392.4,145.6Z" fill="#000"/>
<line x1="1456.7" y1="137.0" x2="1857.5" y2="137.0" stroke="#000" stroke-width="4.8"/>
<path d="M1418.7,137.0 L1458.7,128.4 L1458.7,145.6Z" fill="#000"/>
<path d="M1895.5,137.0 L1855.5,128.4 L1855.5,145.6Z" fill="#000"/>
</g>
<text font-size="67"><tspan x="437.3" y="114.3" font-family="'Liberation Serif','Noto Serif CJK SC',serif" font-size="54" textLength="67.9" lengthAdjust="spacingAndGlyphs">＜</tspan><tspan x="504.5" y="117.3">2 </tspan><tspan x="557.2" y="117.3" textLength="35.4" lengthAdjust="spacingAndGlyphs">µ</tspan><tspan x="589.8" y="117.3">m</tspan></text>
<text font-size="67" y="115.3"><tspan x="973" y="115.3">2 </tspan><tspan x="1026.1" y="115.3" textLength="35.4" lengthAdjust="spacingAndGlyphs">µ</tspan><tspan x="1058.1" y="115.3">m~</tspan><tspan x="1144.6" y="115.3">75 </tspan><tspan x="1231.3" y="115.3" textLength="35.4" lengthAdjust="spacingAndGlyphs">µ</tspan><tspan x="1264.5" y="115.3">m</tspan></text>
<text font-size="67"><tspan x="1560" y="116.8" font-family="'Liberation Serif','Noto Serif CJK SC',serif" font-size="54" textLength="67.9" lengthAdjust="spacingAndGlyphs">＞</tspan><tspan x="1624.7" y="121.3">7</tspan><tspan dx="1" y="121.3">5 </tspan><tspan x="1712" y="121.3" textLength="35.4" lengthAdjust="spacingAndGlyphs">µ</tspan><tspan x="1745.9" y="121.3">m</tspan></text>
<rect x="250.8" y="60.3" width="1640.5" height="1230.5" fill="none" stroke="#000" stroke-width="7.5"/>
<line x1="250.8" y1="1290.8" x2="271.6" y2="1290.8" stroke="#000" stroke-width="7.2"/>
<line x1="250.8" y1="1234.9" x2="260.9" y2="1234.9" stroke="#000" stroke-width="7.2"/>
<line x1="250.8" y1="1178.9" x2="271.6" y2="1178.9" stroke="#000" stroke-width="7.2"/>
<line x1="250.8" y1="1123.0" x2="260.9" y2="1123.0" stroke="#000" stroke-width="7.2"/>
<line x1="250.8" y1="1067.1" x2="271.6" y2="1067.1" stroke="#000" stroke-width="7.2"/>
<line x1="250.8" y1="1011.1" x2="260.9" y2="1011.1" stroke="#000" stroke-width="7.2"/>
<line x1="250.8" y1="955.2" x2="271.6" y2="955.2" stroke="#000" stroke-width="7.2"/>
<line x1="250.8" y1="899.3" x2="260.9" y2="899.3" stroke="#000" stroke-width="7.2"/>
<line x1="250.8" y1="843.3" x2="271.6" y2="843.3" stroke="#000" stroke-width="7.2"/>
<line x1="250.8" y1="787.4" x2="260.9" y2="787.4" stroke="#000" stroke-width="7.2"/>
<line x1="250.8" y1="731.5" x2="271.6" y2="731.5" stroke="#000" stroke-width="7.2"/>
<line x1="250.8" y1="675.5" x2="260.9" y2="675.5" stroke="#000" stroke-width="7.2"/>
<line x1="250.8" y1="619.6" x2="271.6" y2="619.6" stroke="#000" stroke-width="7.2"/>
<line x1="250.8" y1="563.7" x2="260.9" y2="563.7" stroke="#000" stroke-width="7.2"/>
<line x1="250.8" y1="507.8" x2="271.6" y2="507.8" stroke="#000" stroke-width="7.2"/>
<line x1="250.8" y1="451.8" x2="260.9" y2="451.8" stroke="#000" stroke-width="7.2"/>
<line x1="250.8" y1="395.9" x2="271.6" y2="395.9" stroke="#000" stroke-width="7.2"/>
<line x1="250.8" y1="340.0" x2="260.9" y2="340.0" stroke="#000" stroke-width="7.2"/>
<line x1="250.8" y1="284.0" x2="271.6" y2="284.0" stroke="#000" stroke-width="7.2"/>
<line x1="250.8" y1="228.1" x2="260.9" y2="228.1" stroke="#000" stroke-width="7.2"/>
<line x1="250.8" y1="172.2" x2="271.6" y2="172.2" stroke="#000" stroke-width="7.2"/>
<line x1="250.8" y1="116.2" x2="260.9" y2="116.2" stroke="#000" stroke-width="7.2"/>
<line x1="250.8" y1="60.3" x2="271.6" y2="60.3" stroke="#000" stroke-width="7.2"/>
<line x1="374.3" y1="1290.8" x2="374.3" y2="1280.3" stroke="#000" stroke-width="7.2"/>
<line x1="446.5" y1="1290.8" x2="446.5" y2="1280.3" stroke="#000" stroke-width="7.2"/>
<line x1="497.7" y1="1290.8" x2="497.7" y2="1280.3" stroke="#000" stroke-width="7.2"/>
<line x1="537.5" y1="1290.8" x2="537.5" y2="1280.3" stroke="#000" stroke-width="7.2"/>
<line x1="569.9" y1="1290.8" x2="569.9" y2="1280.3" stroke="#000" stroke-width="7.2"/>
<line x1="597.4" y1="1290.8" x2="597.4" y2="1280.3" stroke="#000" stroke-width="7.2"/>
<line x1="621.2" y1="1290.8" x2="621.2" y2="1280.3" stroke="#000" stroke-width="7.2"/>
<line x1="642.2" y1="1290.8" x2="642.2" y2="1280.3" stroke="#000" stroke-width="7.2"/>
<line x1="660.9" y1="1290.8" x2="660.9" y2="1269.8" stroke="#000" stroke-width="7.2"/>
<line x1="784.4" y1="1290.8" x2="784.4" y2="1280.3" stroke="#000" stroke-width="7.2"/>
<line x1="856.6" y1="1290.8" x2="856.6" y2="1280.3" stroke="#000" stroke-width="7.2"/>
<line x1="907.8" y1="1290.8" x2="907.8" y2="1280.3" stroke="#000" stroke-width="7.2"/>
<line x1="947.6" y1="1290.8" x2="947.6" y2="1280.3" stroke="#000" stroke-width="7.2"/>
<line x1="980.1" y1="1290.8" x2="980.1" y2="1280.3" stroke="#000" stroke-width="7.2"/>
<line x1="1007.5" y1="1290.8" x2="1007.5" y2="1280.3" stroke="#000" stroke-width="7.2"/>
<line x1="1031.3" y1="1290.8" x2="1031.3" y2="1280.3" stroke="#000" stroke-width="7.2"/>
<line x1="1052.3" y1="1290.8" x2="1052.3" y2="1280.3" stroke="#000" stroke-width="7.2"/>
<line x1="1071.0" y1="1290.8" x2="1071.0" y2="1269.8" stroke="#000" stroke-width="7.2"/>
<line x1="1194.5" y1="1290.8" x2="1194.5" y2="1280.3" stroke="#000" stroke-width="7.2"/>
<line x1="1266.7" y1="1290.8" x2="1266.7" y2="1280.3" stroke="#000" stroke-width="7.2"/>
<line x1="1318.0" y1="1290.8" x2="1318.0" y2="1280.3" stroke="#000" stroke-width="7.2"/>
<line x1="1357.7" y1="1290.8" x2="1357.7" y2="1280.3" stroke="#000" stroke-width="7.2"/>
<line x1="1390.2" y1="1290.8" x2="1390.2" y2="1280.3" stroke="#000" stroke-width="7.2"/>
<line x1="1417.6" y1="1290.8" x2="1417.6" y2="1280.3" stroke="#000" stroke-width="7.2"/>
<line x1="1441.4" y1="1290.8" x2="1441.4" y2="1280.3" stroke="#000" stroke-width="7.2"/>
<line x1="1462.4" y1="1290.8" x2="1462.4" y2="1280.3" stroke="#000" stroke-width="7.2"/>
<line x1="1481.2" y1="1290.8" x2="1481.2" y2="1269.8" stroke="#000" stroke-width="7.2"/>
<line x1="1604.6" y1="1290.8" x2="1604.6" y2="1280.3" stroke="#000" stroke-width="7.2"/>
<line x1="1676.9" y1="1290.8" x2="1676.9" y2="1280.3" stroke="#000" stroke-width="7.2"/>
<line x1="1728.1" y1="1290.8" x2="1728.1" y2="1280.3" stroke="#000" stroke-width="7.2"/>
<line x1="1767.8" y1="1290.8" x2="1767.8" y2="1280.3" stroke="#000" stroke-width="7.2"/>
<line x1="1800.3" y1="1290.8" x2="1800.3" y2="1280.3" stroke="#000" stroke-width="7.2"/>
<line x1="1827.8" y1="1290.8" x2="1827.8" y2="1280.3" stroke="#000" stroke-width="7.2"/>
<line x1="1851.6" y1="1290.8" x2="1851.6" y2="1280.3" stroke="#000" stroke-width="7.2"/>
<line x1="1872.5" y1="1290.8" x2="1872.5" y2="1280.3" stroke="#000" stroke-width="7.2"/>
<text transform="translate(227,1312.1) scale(1,1.035)" font-size="72" text-anchor="end">0</text>
<text transform="translate(227,1200.2) scale(1,1.035)" font-size="72" text-anchor="end">10</text>
<text transform="translate(227,1088.4) scale(1,1.035)" font-size="72" text-anchor="end">20</text>
<text transform="translate(227,976.5) scale(1,1.035)" font-size="72" text-anchor="end">30</text>
<text transform="translate(227,864.6) scale(1,1.035)" font-size="72" text-anchor="end">40</text>
<text transform="translate(227,752.8) scale(1,1.035)" font-size="72" text-anchor="end">50</text>
<text transform="translate(227,640.9) scale(1,1.035)" font-size="72" text-anchor="end">60</text>
<text transform="translate(227,529.1) scale(1,1.035)" font-size="72" text-anchor="end">70</text>
<text transform="translate(227,417.2) scale(1,1.035)" font-size="72" text-anchor="end">80</text>
<text transform="translate(227,305.3) scale(1,1.035)" font-size="72" text-anchor="end">90</text>
<text transform="translate(227,193.5) scale(1,1.035)" font-size="72" text-anchor="end">100</text>
<text transform="translate(227,81.6) scale(1,1.035)" font-size="72" text-anchor="end">110</text>
<text transform="translate(250.8,1369.5) scale(1,1.035)" font-size="72" text-anchor="middle">0.1</text>
<text transform="translate(660.9,1369.5) scale(1,1.035)" font-size="72" text-anchor="middle">1</text>
<text transform="translate(1071.0,1369.5) scale(1,1.035)" font-size="72" text-anchor="middle">10</text>
<text transform="translate(1481.2,1369.5) scale(1,1.035)" font-size="72" text-anchor="middle">100</text>
<text transform="translate(1891.3,1369.5) scale(1,1.035)" font-size="72" text-anchor="middle">1000</text>
<text x="846.2" y="1483.5" font-size="72" word-spacing="-2">Grain size (µ<tspan dx="-4">m)</tspan></text>
<text transform="translate(94.6,674.4) rotate(-90)" font-size="71.6" text-anchor="middle">Percent passing (%)</text>
<line x1="284.4" y1="233.2" x2="430.6" y2="233.2" stroke="#515151" stroke-width="7.2"/>
<circle cx="284.4" cy="233.2" r="3.6" fill="#515151"/>
<rect x="338.6" y="214.0" width="38.4" height="38.4" fill="#515151"/>
<text x="447.5" y="254.7" font-size="67">SC</text>
<line x1="284.4" y1="315.2" x2="430.6" y2="315.2" stroke="#ef3e3e" stroke-width="7.2"/>
<circle cx="284.4" cy="315.2" r="3.6" fill="#ef3e3e"/>
<circle cx="357.8" cy="315.2" r="21.6" fill="#ef3e3e"/>
<text x="447.5" y="338.3" font-size="67">GBFS</text>
<line x1="284.4" y1="397.0" x2="430.6" y2="397.0" stroke="#1d6fe0" stroke-width="7.2"/>
<circle cx="284.4" cy="397.0" r="3.6" fill="#1d6fe0"/>
<path d="M357.8,367.3 L383.0,411.9 L332.6,411.9Z" fill="#1d6fe0"/>
<text x="447.5" y="419.6" font-size="67">MgO</text>
<line x1="284.4" y1="478.5" x2="430.6" y2="478.5" stroke="#37ad68" stroke-width="7.2"/>
<circle cx="284.4" cy="478.5" r="3.6" fill="#37ad68"/>
<path d="M357.8,508.2 L383.0,463.6 L332.6,463.6Z" fill="#37ad68"/>
<text x="447.5" y="501.5" font-size="67">BG</text>
</svg>
</body></html>
